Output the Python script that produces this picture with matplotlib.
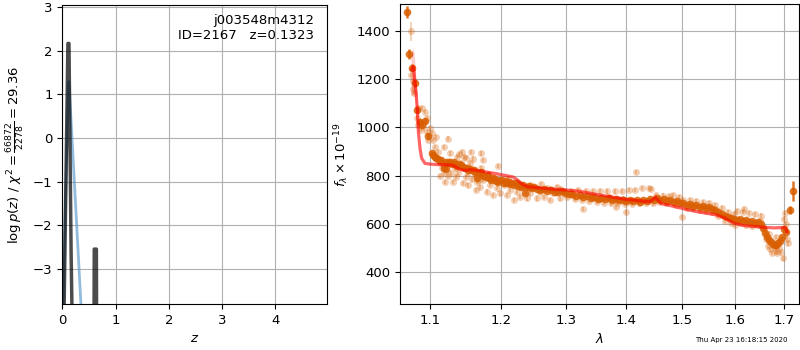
import matplotlib
matplotlib.use('Agg')
import matplotlib.pyplot as plt
from matplotlib.ticker import FixedLocator, FixedFormatter, NullLocator

# ---------------- left panel: log p(z) ----------------
z_pz = [0.0, 0.03, 0.105, 0.125, 0.165, 0.19, 0.595, 0.60, 0.64, 0.645, 5.0]
logp_pz = [-12.0, -4.2, 2.17, 2.17, -2.62, -4.6, -4.6, -2.55, -2.55, -4.6, -30.0]

z_blue = [0.0, 0.113, 0.125, 0.40]
logp_blue = [-4.6, 1.29, 1.29, -4.95]

zticks = [0, 1, 2, 3, 4]
pticks = [-3, -2, -1, 0, 1, 2, 3]

# ---------------- right panel: spectrum ----------------
lam_d = [1.069, 1.072, 1.0763, 1.0795, 1.0826, 1.0865, 1.0932, 1.0977, 1.089,
         1.1023, 1.1045, 1.1064, 1.108, 1.111, 1.113, 1.1155, 1.1185, 1.1212, 1.122,
         1.125, 1.127, 1.13, 1.1325, 1.1344, 1.137, 1.14, 1.142, 1.145, 1.148, 1.1508,
         1.153, 1.156, 1.1585, 1.1606, 1.163, 1.165, 1.168, 1.1706, 1.173, 1.176, 1.178,
         1.1806, 1.183, 1.186, 1.1885, 1.1908, 1.193, 1.196, 1.1985, 1.2012, 1.204,
         1.207, 1.209, 1.2117, 1.214, 1.217, 1.2195, 1.2223, 1.225, 1.228, 1.2305,
         1.233, 1.236, 1.239, 1.2415, 1.2437, 1.247, 1.25, 1.2546, 1.259, 1.2655, 1.27,
         1.2766, 1.282, 1.2877, 1.293, 1.299, 1.305, 1.3103, 1.316, 1.322, 1.328, 1.334,
         1.34, 1.346, 1.352, 1.358, 1.364, 1.37, 1.376, 1.382, 1.388, 1.394, 1.40,
         1.406, 1.412, 1.418, 1.424, 1.43, 1.436, 1.442, 1.448, 1.454, 1.46, 1.466,
         1.472, 1.478, 1.484, 1.49, 1.496, 1.502, 1.508, 1.514, 1.52, 1.526, 1.532,
         1.538, 1.544, 1.55, 1.556, 1.562, 1.568, 1.574, 1.58, 1.586, 1.592, 1.598,
         1.604, 1.61, 1.616, 1.622, 1.628, 1.634, 1.64, 1.646, 1.652, 1.656, 1.66,
         1.664, 1.668, 1.672, 1.676, 1.68, 1.684, 1.688, 1.692, 1.696, 1.70, 1.704,
         1.7128, 1.7177]
flux_d = [1478, 1303, 1247, 1182, 1071, 1023, 1027, 964, 1010,
          892, 885, 878, 872, 871, 862, 866, 830, 826, 858,
          852, 857, 848, 855, 850, 842, 847, 843, 836, 832, 830,
          825, 828, 822, 823, 815, 789, 812, 816, 805, 800, 795,
          802, 790, 784, 790, 788, 778, 776, 781, 781, 771,
          777, 769, 775, 766, 771, 762, 768, 758, 763, 755,
          761, 727, 752, 757, 754, 748, 752, 747, 742, 747, 738,
          740, 734, 733, 736, 729, 724, 726, 718, 721, 713, 716,
          709, 712, 705, 708, 702, 706, 700, 704, 698, 701, 695,
          699, 694, 698, 693, 699, 697, 703, 700, 706, 699, 703,
          697, 700, 692, 694, 686, 688, 680, 683, 676, 678, 672,
          674, 668, 670, 662, 658, 648, 642, 634, 630, 624, 622,
          616, 620, 612, 616, 608, 612, 606, 610, 600, 585, 562,
          548, 535, 525, 518, 513, 515, 520, 530, 546, 578, 568,
          658, 738]
err_d = [25, 20, 15, 15, 12, 12, 12, 12, 10] + [4] * (len(lam_d) - 11) + [17, 42]

lam_f = [1.0742, 1.0745, 1.0765, 1.0775, 1.079, 1.0843, 1.0887, 1.0932, 1.0843, 1.0873,
         1.0907, 1.0953, 1.0977, 1.10, 1.0965, 1.082,
         1.1023, 1.1044, 1.1067, 1.108, 1.111, 1.1135, 1.116, 1.1185, 1.121, 1.124,
         1.1185, 1.1266, 1.129, 1.1315, 1.134, 1.1365, 1.139, 1.142, 1.1445, 1.147,
         1.1495, 1.152, 1.1548, 1.157, 1.16, 1.1626, 1.1645, 1.168, 1.171, 1.1735,
         1.171, 1.113, 1.1245, 1.1205, 1.135, 1.145, 1.1525, 1.158, 1.1405, 1.150, 1.1265,
         1.165, 1.17, 1.1746, 1.1794, 1.1842, 1.189, 1.1939, 1.1964, 1.199, 1.204,
         1.209, 1.214, 1.219, 1.224, 1.229, 1.234, 1.239, 1.244, 1.249, 1.254, 1.259,
         1.265, 1.270, 1.275, 1.280, 1.286, 1.291, 1.296, 1.18, 1.19, 1.21, 1.225,
         1.245, 1.26, 1.275, 1.29,
         1.302, 1.308, 1.314, 1.32, 1.326, 1.328, 1.332, 1.338, 1.344, 1.35, 1.356,
         1.362, 1.368, 1.374, 1.38, 1.383, 1.386, 1.392, 1.398, 1.40, 1.404, 1.41,
         1.4173, 1.416, 1.422, 1.428, 1.434, 1.44, 1.444, 1.446, 1.31, 1.34, 1.37, 1.395,
         1.452, 1.458, 1.464, 1.47, 1.476, 1.482, 1.488, 1.494, 1.50, 1.502, 1.508,
         1.514, 1.52, 1.526, 1.532, 1.538, 1.544, 1.55, 1.556, 1.562, 1.568, 1.574,
         1.58, 1.586, 1.592, 1.598, 1.6,
         1.604, 1.61, 1.616, 1.619, 1.622, 1.628, 1.634, 1.64, 1.646, 1.652, 1.658,
         1.662, 1.666, 1.67, 1.674, 1.678, 1.682, 1.686, 1.69, 1.694, 1.698, 1.70,
         1.702, 1.704, 1.706, 1.708, 1.65, 1.668, 1.684]
flux_f = [1398, 1216, 1190, 1160, 1142, 1079, 1079, 1065, 1010, 989,
          1003, 982, 948, 996, 1040, 1040,
          975, 948, 920, 961, 899, 858, 830, 810, 844, 954,
          920, 892, 810, 775, 830, 878, 810, 851, 899, 878,
          796, 810, 851, 899, 871, 803, 741, 782, 830, 864,
          892, 800, 800, 775, 795, 770, 760, 785, 888, 872, 862,
          775, 754, 782, 734, 761, 720, 748, 841, 727, 761,
          720, 741, 699, 734, 713, 748, 706, 727, 754, 706, 734,
          713, 748, 699, 727, 754, 706, 734, 800, 790, 785, 770,
          760, 765, 745, 745,
          712, 738, 705, 740, 700, 661, 738, 695, 738, 692, 735,
          688, 735, 685, 735, 672, 688, 738, 682, 650, 740, 684,
          815, 742, 686, 748, 688, 750, 745, 685, 720, 718, 712, 705,
          720, 690, 718, 685, 715, 720, 678, 712, 630, 700, 668,
          698, 665, 695, 660, 692, 655, 688, 650, 680, 635, 665,
          612, 650, 605, 640, 598,
          655, 605, 650, 662, 598, 645, 590, 640, 596, 635, 575,
          540, 510, 495, 480, 505, 490, 480, 500, 485, 458, 620,
          645, 600, 540, 520, 612, 560, 545]
err_f = [40] + [9] * (len(lam_f) - 1)

lam_m = [1.0755, 1.0777, 1.0813, 1.0829, 1.0843, 1.0865, 1.0887, 1.0932, 1.10, 1.11,
         1.1242, 1.1315, 1.138, 1.142, 1.1495, 1.155, 1.165, 1.175, 1.19, 1.205, 1.218,
         1.225, 1.232, 1.24, 1.25, 1.265, 1.28, 1.30, 1.32, 1.34, 1.36, 1.38, 1.40,
         1.42, 1.44, 1.446, 1.451, 1.456, 1.462, 1.475, 1.49, 1.51, 1.53, 1.55, 1.565,
         1.58, 1.59, 1.60, 1.62, 1.64, 1.66, 1.68, 1.70, 1.703, 1.706]
flux_m = [1240, 1251, 1141, 1072, 982, 913, 872, 851, 848, 846,
          845, 843, 832, 825, 822, 825, 822, 817, 810, 802, 795,
          782, 765, 754, 752, 748, 744, 741, 736, 727, 718, 710, 702,
          697, 692, 700, 712, 698, 684, 678, 670, 659, 650, 643, 637,
          625, 613, 602, 593, 590, 586, 584, 586, 582, 568]

lam_band = [1.0745, 1.0765, 1.0785, 1.0805, 1.0825]
band_lo = [1130, 1135, 1140, 1100, 1060]
band_hi = [1300, 1330, 1310, 1230, 1110]

lam_ticks = [1.1, 1.2, 1.3, 1.4, 1.5, 1.6, 1.7]
f_ticks = [400, 600, 800, 1000, 1200, 1400]

orange = '#d95f02'
FS = 9.5

fig = plt.figure(figsize=(8, 3.5), dpi=100)
ax1 = fig.add_axes([0.0779, 0.1314, 0.3313, 0.854])
ax2 = fig.add_axes([0.5004, 0.1314, 0.4988, 0.856])

# left
ax1.plot(z_blue, logp_blue, color='#4a90c8', alpha=0.6, lw=2)
ax1.plot(z_pz, logp_pz, color='k', alpha=0.7, lw=2.5)
ax1.set_xlim(0, 4.98)
ax1.set_ylim(-3.81, 3.05)
ax1.set_xticks(zticks)
ax1.set_yticks(pticks)
ax1.grid(True)
ax1.set_axisbelow(True)
ax1.tick_params(labelsize=FS)
ax1.set_xlabel(r'$z$', fontsize=FS)
ax1.set_ylabel(r'$\log p(z)$ / $\chi^2=\frac{66872}{2278}=29.36$', fontsize=FS)
ax1.text(0.95, 0.97, 'j003548m4312\nID=2167   z=0.1323', transform=ax1.transAxes,
         ha='right', va='top', fontsize=FS)

# right
ax2.set_xscale('log')
ax2.errorbar(lam_f, flux_f, yerr=err_f, fmt='o', color=orange, alpha=0.3,
             ms=5, mew=0, elinewidth=1.3, zorder=2)
ax2.errorbar(lam_d, flux_d, yerr=err_d, fmt='o', color=orange, alpha=0.85,
             ms=5.5, mew=0, elinewidth=1.8, zorder=3)
ax2.fill_between(lam_band, band_lo, band_hi, color='r', alpha=0.2, lw=0, zorder=4)
ax2.plot(lam_m, flux_m, color='r', alpha=0.6, lw=2.3, zorder=5)
ax2.set_xlim(1.0605, 1.732)
ax2.set_ylim(269, 1509)
ax2.xaxis.set_major_locator(FixedLocator(lam_ticks))
ax2.xaxis.set_major_formatter(FixedFormatter([f'{t:.1f}' for t in lam_ticks]))
ax2.xaxis.set_minor_locator(NullLocator())
ax2.set_yticks(f_ticks)
ax2.grid(True)
ax2.set_axisbelow(True)
ax2.tick_params(labelsize=FS)
ax2.set_xlabel(r'$\lambda$', fontsize=FS)
ax2.set_ylabel(r'$f_\lambda \times 10^{-19}$', fontsize=FS)

fig.text(0.984, 0.029, 'Thu Apr 23 16:18:15 2020', ha='right', va='center', fontsize=5)

fig.savefig('out.png', dpi=100)
